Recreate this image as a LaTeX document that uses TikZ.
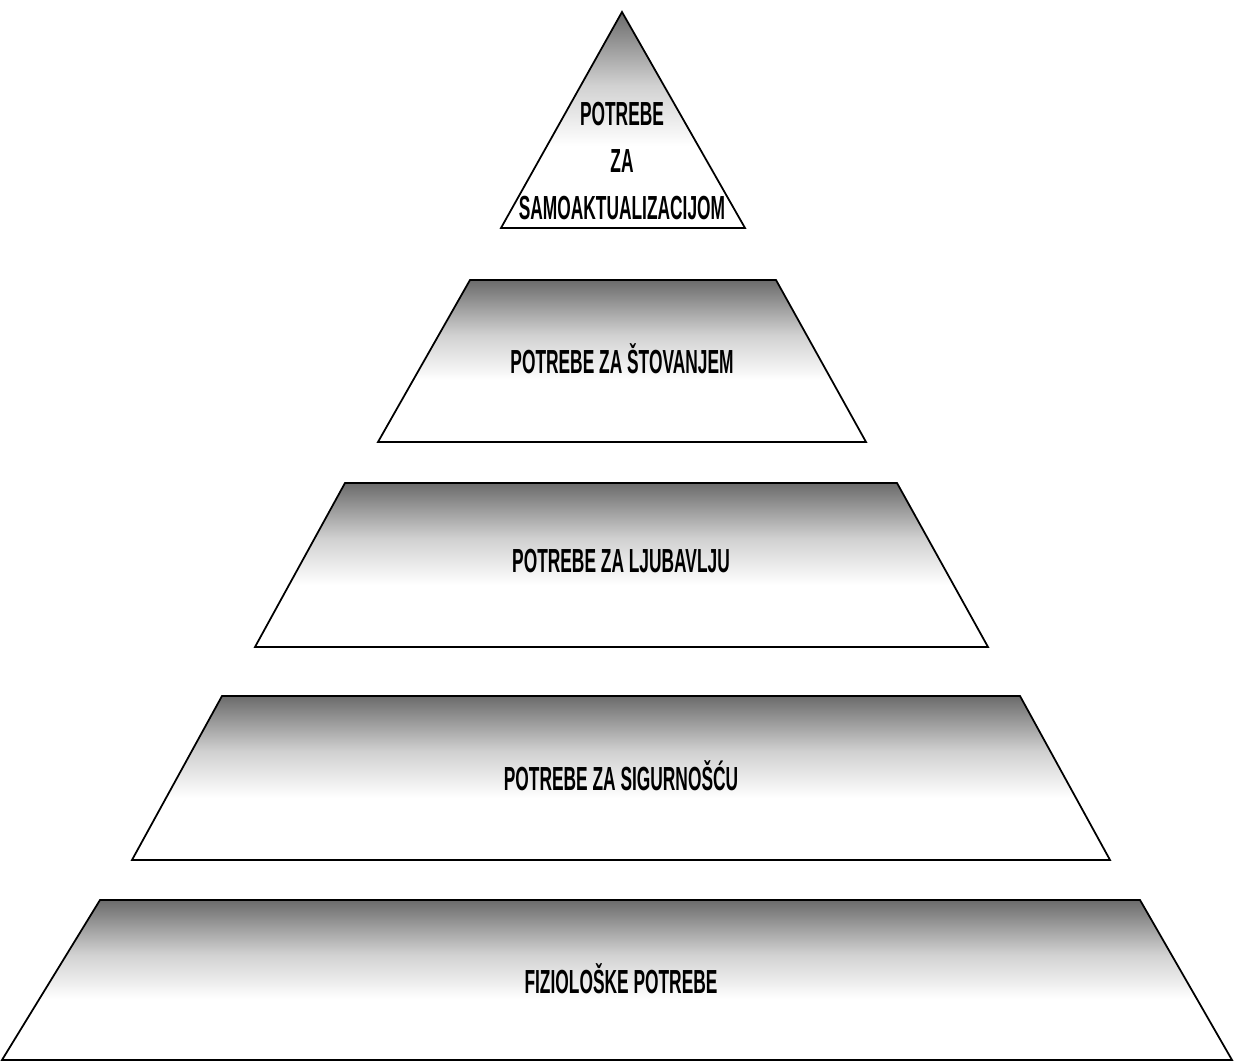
\documentclass[tikz,border=0pt]{standalone}
\usepackage{fontspec}
\newfontfamily\lvlfont[FakeStretch=0.52]{Liberation Sans}
\usepackage{tikz}
\usetikzlibrary{positioning}
\pgfdeclareverticalshading{levelshade}{100bp}{color(0bp)=(white); color(44bp)=(white); color(58bp)=(black!18); color(75bp)=(black!58); color(100bp)=(black!58)}
\tikzset{
  level/.style={shade,shading=levelshade,draw=black,line width=1pt,line join=miter},
  lvltext/.style={font=\lvlfont\bfseries\fontsize{19}{27}\selectfont,align=center,inner sep=0pt}
}

\begin{document}
\begin{tikzpicture}[x=0.02cm,y=0.02cm]
\useasboundingbox (0,0) rectangle (1234,1064);
% top: self-actualisation
\path[level] (622,1052) -- (745,836) -- (501,836) -- cycle;
\node[lvltext] (samoakt) at (622,903) {POTREBE\\ZA\\SAMOAKTUALIZACIJOM};
% esteem
\path[level] (470,784) -- (776,784) -- (866,622) -- (378,622) -- cycle;
\node[lvltext] (stovanje) at (622,705) {POTREBE ZA ŠTOVANJEM};
% love
\path[level] (345,581) -- (897,581) -- (988,417) -- (255,417) -- cycle;
\node[lvltext] (ljubav) at (621,503) {POTREBE ZA LJUBAVLJU};
% safety
\path[level] (222,368) -- (1020,368) -- (1110,204) -- (132,204) -- cycle;
\node[lvltext] (sigurnost) at (621,288) {POTREBE ZA SIGURNOŠĆU};
% physiological
\path[level] (100,164) -- (1140,164) -- (1232,4) -- (2,4) -- cycle;
\node[lvltext] (fizio) at (621,85) {FIZIOLOŠKE POTREBE};
\end{tikzpicture}
\end{document}
